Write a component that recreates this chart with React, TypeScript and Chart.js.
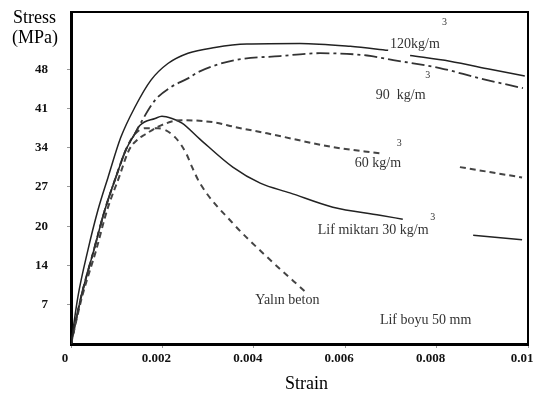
import React, { useEffect, useRef } from "react";
import { Chart, registerables } from "chart.js";

Chart.register(...registerables);

// ---- Data (strain, stress MPa) ----
const STRAIN_120 = [0, 0.00015, 0.00037, 0.00059, 0.00081, 0.00109, 0.0014, 0.00175, 0.00212, 0.00256, 0.00315, 0.00385, 0.00501, 0.00611, 0.00694, 0.0071, 0.00742, 0.00829, 0.00917, 0.00993];
const STRESS_120 = [0, 8.2, 16.4, 23.4, 29.1, 36.1, 41.4, 46.1, 49.0, 50.8, 51.8, 52.4, 52.5, 52.0, 51.3, null, 50.4, 49.4, 48.0, 46.8];

const STRAIN_90 = [0, 0.00022, 0.0005, 0.00074, 0.00098, 0.0012, 0.00138, 0.00151, 0.00184, 0.00219, 0.00256, 0.00278, 0.00359, 0.00457, 0.00545, 0.00648, 0.00705, 0.00807, 0.00895, 0.00989];
const STRESS_90 = [0, 8.2, 16.4, 23.4, 29.1, 33.9, 36.5, 38.4, 42.6, 44.9, 46.4, 47.5, 49.6, 50.3, 50.8, 50.4, 49.6, 48.2, 46.4, 44.7];

const STRAIN_60 = [0, 0.00024, 0.00055, 0.00079, 0.00105, 0.00127, 0.00144, 0.00162, 0.00197, 0.00241, 0.00315, 0.00359, 0.00429, 0.00573, 0.00676, 0.0075, 0.00851, 0.00987];
const STRESS_60 = [0, 8.2, 16.4, 23.4, 29.1, 33.9, 35.6, 36.6, 38.2, 39.1, 38.7, 37.9, 36.8, 34.4, 33.3, null, 30.9, 29.1];

const STRAIN_30 = [0, 0.00022, 0.0005, 0.00074, 0.00098, 0.0012, 0.00138, 0.00151, 0.00184, 0.00199, 0.00221, 0.00243, 0.00282, 0.00354, 0.00414, 0.00479, 0.00573, 0.00676, 0.00726, 0.0078, 0.0088, 0.00987];
const STRESS_30 = [0, 8.2, 16.4, 23.4, 29.1, 33.9, 36.5, 38.2, 39.4, 39.8, 39.4, 38.6, 35.8, 30.9, 28.1, 26.4, 23.9, 22.5, 21.8, null, 19.0, 18.2];

const STRAIN_PLAIN = [0, 0.00022, 0.0005, 0.00074, 0.00098, 0.0012, 0.00138, 0.00162, 0.0019, 0.00228, 0.00252, 0.00265, 0.00282, 0.00354, 0.00429, 0.00516];
const STRESS_PLAIN = [0, 8.2, 16.4, 23.4, 29.1, 33.9, 36.5, 37.7, 37.7, 36.1, 33.3, 30.9, 28.1, 21.1, 15.2, 8.9];

const X_TICK_VALUES = [0, 0.002, 0.004, 0.006, 0.008, 0.01];
const X_TICK_LABELS = ["0", "0.002", "0.004", "0.006", "0.008", "0.01"];
const Y_TICK_VALUES = [6.86, 13.71, 20.57, 27.43, 34.29, 41.14, 48];
const Y_TICK_LABELS = ["7", "14", "20", "27", "34", "41", "48"];

const SERIES_NAMES = ["120kg/m", "90  kg/m", "60 kg/m", "Lif miktarı 30 kg/m", "Yalın beton"];

// annotation texts anchored in data coordinates (left, middle)
const ANNOTATIONS = [
  { text: "120kg/m", x: 0.00698, y: 52.4, size: 14 },
  { text: "3", x: 0.00812, y: 56.2, size: 10 },
  { text: "90  kg/m", x: 0.00667, y: 43.5, size: 14 },
  { text: "3", x: 0.00775, y: 46.9, size: 10 },
  { text: "60 kg/m", x: 0.00621, y: 31.6, size: 14 },
  { text: "3", x: 0.00713, y: 35.1, size: 10 },
  { text: "Lif miktarı 30 kg/m", x: 0.0054, y: 19.9, size: 14 },
  { text: "3", x: 0.00786, y: 22.2, size: 10 },
  { text: "Yalın beton", x: 0.00403, y: 7.7, size: 14 },
  { text: "Lif boyu 50 mm", x: 0.00676, y: 4.2, size: 14 },
];

const SERIF = '"Liberation Serif", "DejaVu Serif", serif';

function pts(xs: number[], ys: (number | null)[]) {
  return xs.map((x, i) => ({ x, y: ys[i] }));
}

const textPlugin = {
  id: "textPlugin",
  afterDraw(chart: any) {
    const { ctx, chartArea, scales } = chart;
    const xs = scales.x;
    const ys = scales.y;
    ctx.save();
    // top & right frame
    ctx.strokeStyle = "#000";
    ctx.lineWidth = 2;
    ctx.beginPath();
    ctx.moveTo(chartArea.left, chartArea.top);
    ctx.lineTo(chartArea.right, chartArea.top);
    ctx.lineTo(chartArea.right, chartArea.bottom);
    ctx.stroke();

    ctx.fillStyle = "#333";
    ctx.textAlign = "left";
    ctx.textBaseline = "middle";
    ANNOTATIONS.forEach((a) => {
      ctx.font = `${a.size}px ${SERIF}`;
      ctx.fillText(a.text, xs.getPixelForValue(a.x), ys.getPixelForValue(a.y));
    });

    ctx.fillStyle = "#000";
    ctx.textBaseline = "alphabetic";
    ctx.font = `18px ${SERIF}`;
    ctx.fillText("Stress", 13, 23);
    ctx.fillText("(MPa)", 12, 43);
    ctx.textAlign = "center";
    ctx.fillText("Strain", (chartArea.left + chartArea.right) / 2 + 7, 389);
    ctx.restore();
  },
};

export default function App() {
  const ref = useRef<HTMLCanvasElement | null>(null);

  useEffect(() => {
    document.body.style.margin = "0";
    if (!ref.current) return;
    const line = (label: string, data: any, dash: number[], width: number, color: string) => ({
      label,
      data,
      showLine: true,
      borderColor: color,
      borderWidth: width,
      borderDash: dash,
      pointRadius: 0,
      cubicInterpolationMode: "monotone" as const,
      spanGaps: false,
      fill: false,
    });
    const chart = new Chart(ref.current, {
      type: "scatter",
      data: {
        datasets: [
          line(SERIES_NAMES[0], pts(STRAIN_120, STRESS_120), [], 1.5, "#222"),
          line(SERIES_NAMES[1], pts(STRAIN_90, STRESS_90), [13, 4, 3, 4], 1.8, "#333"),
          line(SERIES_NAMES[2], pts(STRAIN_60, STRESS_60), [6, 4], 2, "#444"),
          line(SERIES_NAMES[3], pts(STRAIN_30, STRESS_30), [], 1.5, "#222"),
          line(SERIES_NAMES[4], pts(STRAIN_PLAIN, STRESS_PLAIN), [6, 5], 2, "#444"),
        ],
      },
      options: {
        responsive: false,
        animation: false,
        layout: { padding: { top: 12, right: 8, left: 0, bottom: 0 } },
        plugins: { legend: { display: false }, tooltip: { enabled: false } },
        scales: {
          x: {
            type: "linear",
            min: 0,
            max: 0.01,
            afterBuildTicks: (s: any) => {
              s.ticks = X_TICK_VALUES.map((v) => ({ value: v }));
            },
            afterFit: (s: any) => {
              s.height = 50;
              s.paddingLeft = 0;
              s.paddingRight = 0;
            },
            grid: { drawOnChartArea: false, drawTicks: true, tickLength: 4, color: "#999" },
            border: { display: true, width: 3, color: "#000" },
            ticks: {
              autoSkip: false,
              maxRotation: 0,
              padding: 3,
              labelOffset: -6,
              color: "#111",
              font: { family: SERIF, size: 13, weight: "bold" },
              callback: (_v: any, i: number) => X_TICK_LABELS[i],
            },
          },
          y: {
            type: "linear",
            min: 0,
            max: 58,
            afterBuildTicks: (s: any) => {
              s.ticks = Y_TICK_VALUES.map((v) => ({ value: v }));
            },
            afterFit: (s: any) => {
              s.width = 71;
              s.paddingTop = 0;
              s.paddingBottom = 0;
            },
            grid: { drawOnChartArea: false, drawTicks: true, tickLength: 4, color: "#999" },
            border: { display: true, width: 3, color: "#000" },
            ticks: {
              autoSkip: false,
              padding: 19,
              color: "#111",
              font: { family: SERIF, size: 13, weight: "bold" },
              callback: (_v: any, i: number) => Y_TICK_LABELS[i],
            },
          },
        },
      },
      plugins: [textPlugin],
    });
    return () => chart.destroy();
  }, []);

  return (
    <div style={{ width: 536, height: 394, background: "#fff" }}>
      <canvas ref={ref} width={536} height={394} style={{ display: "block" }} />
    </div>
  );
}
